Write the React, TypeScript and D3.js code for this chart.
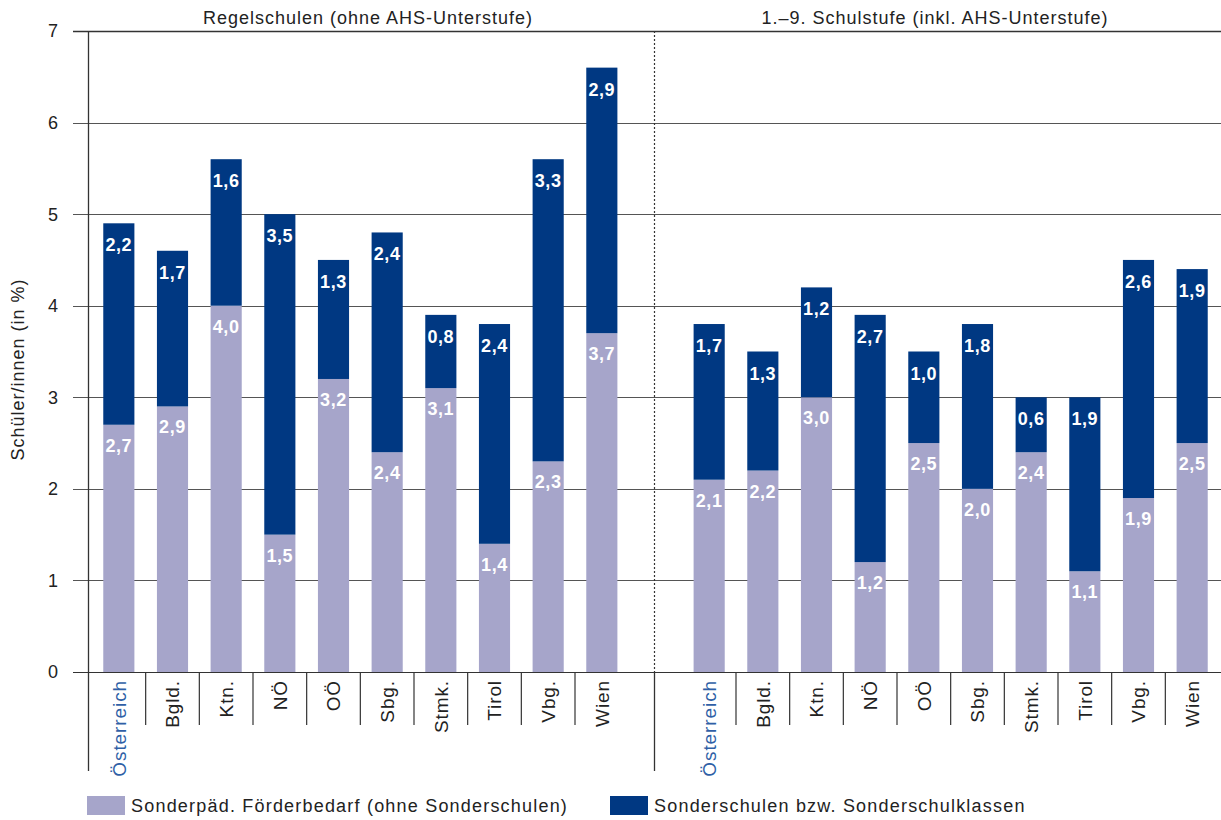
import React from "react";
import * as d3 from "d3";

// Bundesländer, same order in both panels
const regions = ["Österreich", "Bgld.", "Ktn.", "NÖ", "OÖ", "Sbg.", "Stmk.", "Tirol", "Vbg.", "Wien"];

// Regelschulen (ohne AHS-Unterstufe)
const regelFoerder = [2.7, 2.9, 4.0, 1.5, 3.2, 2.4, 3.1, 1.4, 2.3, 3.7];
const regelSonder = [2.2, 1.7, 1.6, 3.5, 1.3, 2.4, 0.8, 2.4, 3.3, 2.9];

// 1.–9. Schulstufe (inkl. AHS-Unterstufe)
const stufeFoerder = [2.1, 2.2, 3.0, 1.2, 2.5, 2.0, 2.4, 1.1, 1.9, 2.5];
const stufeSonder = [1.7, 1.3, 1.2, 2.7, 1.0, 1.8, 0.6, 1.9, 2.6, 1.9];

const panelTitles = ["Regelschulen (ohne AHS-Unterstufe)", "1.–9. Schulstufe (inkl. AHS-Unterstufe)"];
const seriesNames = ["Sonderpäd. Förderbedarf (ohne Sonderschulen)", "Sonderschulen bzw. Sonderschulklassen"];
const yTicks = [0, 1, 2, 3, 4, 5, 6, 7];

const W = 1221;
const H = 820;
const FONT = "'Liberation Sans', Arial, sans-serif";
const LIGHT = "#A6A5CA";
const DARK = "#003882";
const HIGHLIGHT = "#2F5FA6";
const TEXT = "#222";

export default function App() {
  const top = 31;
  const bottom = 672;
  const axisX = 88;

  const y = d3.scaleLinear().domain([0, 7]).range([bottom, top]);

  // 21 slots: 10 per panel plus an empty slot that separates the panels
  const slots = d3.range(21).map(String);
  const x = d3
    .scaleBand<string>()
    .domain(slots)
    .range([92, 1219])
    .paddingInner(0.42)
    .paddingOuter(0.21);
  const step = x.step();
  const bw = x.bandwidth();

  const panels = [
    { offset: 0, foerder: regelFoerder, sonder: regelSonder },
    { offset: 11, foerder: stufeFoerder, sonder: stufeSonder },
  ];

  const center = (slot: number) => (x(String(slot)) as number) + bw / 2;
  const dividerX = Math.round(center(10)) - 1.5;
  const fmt = (v: number) => d3.format(".1f")(v).replace(".", ",");

  return (
    <svg width={W} height={H} style={{ position: "absolute", left: 0, top: 0 }} fontFamily={FONT}>
      {/* horizontal grid */}
      {yTicks.map((t) => (
        <line
          key={"g" + t}
          x1={73}
          x2={W}
          y1={Math.round(y(t)) + 0.5}
          y2={Math.round(y(t)) + 0.5}
          stroke={t === 0 || t === 7 ? "#333" : "#555"}
          strokeWidth={t === 7 ? 1.6 : 1.1}
        />
      ))}
      {/* y tick labels */}
      {yTicks.map((t) => (
        <text key={"yt" + t} x={58} y={y(t)} dy="0.36em" textAnchor="end" fontSize={18} fill={TEXT}>
          {t}
        </text>
      ))}
      <text
        transform={`translate(24,${(top + bottom) / 2 + 18}) rotate(-90)`}
        textAnchor="middle"
        fontSize={18}
        letterSpacing={1}
        fill={TEXT}
      >
        Schüler/innen (in %)
      </text>

      {/* panel titles */}
      {panelTitles.map((t, i) => {
        const cx = i === 0 ? 368 : 935;
        return (
          <text key={t} x={cx} y={24} textAnchor="middle" fontSize={18} letterSpacing={1} fill={TEXT}>
            {t}
          </text>
        );
      })}

      {/* stacked bars */}
      {panels.map((p, pi) =>
        regions.map((r, i) => {
          const slot = p.offset + i;
          const bx = x(String(slot)) as number;
          const f = p.foerder[i];
          const s = p.sonder[i];
          const yF = y(f);
          const yT = y(f + s);
          return (
            <g key={`${pi}-${r}`}>
              <rect x={bx} y={yF} width={bw} height={bottom - yF} fill={LIGHT} />
              <rect x={bx} y={yT} width={bw} height={yF - yT} fill={DARK} />
              <text
                x={bx + bw / 2}
                y={yF + 27}
                textAnchor="middle"
                fontSize={18}
                fontWeight="bold"
                letterSpacing={0.6}
                fill="#fff"
              >
                {fmt(f)}
              </text>
              <text
                x={bx + bw / 2}
                y={yT + 28}
                textAnchor="middle"
                fontSize={18}
                fontWeight="bold"
                letterSpacing={0.6}
                fill="#fff"
              >
                {fmt(s)}
              </text>
            </g>
          );
        })
      )}

      {/* y axis */}
      <line x1={axisX + 0.5} x2={axisX + 0.5} y1={top} y2={771} stroke="#333" strokeWidth={1.3} />
      {/* panel divider */}
      <line x1={dividerX} x2={dividerX} y1={top} y2={bottom} stroke="#333" strokeWidth={1.2} strokeDasharray="2,2" />
      <line x1={dividerX} x2={dividerX} y1={bottom} y2={771} stroke="#333" strokeWidth={1.3} />

      {/* category separators and labels */}
      {panels.map((p, pi) =>
        regions.map((r, i) => {
          const slot = p.offset + i;
          const cx = center(slot);
          return (
            <g key={`l${pi}-${r}`}>
              {i < regions.length - 1 && (
                <line
                  x1={cx + step / 2}
                  x2={cx + step / 2}
                  y1={bottom}
                  y2={725}
                  stroke="#333"
                  strokeWidth={1.2}
                />
              )}
              <text
                transform={`translate(${cx},${bottom + 8}) rotate(-90)`}
                textAnchor="end"
                dy="0.36em"
                fontSize={19}
                letterSpacing={0.9}
                fill={i === 0 ? HIGHLIGHT : TEXT}
              >
                {r}
              </text>
            </g>
          );
        })
      )}

      {/* legend */}
      {seriesNames.map((n, i) => {
        const lx = i === 0 ? 87 : 610;
        return (
          <g key={n}>
            <rect x={lx} y={796} width={38} height={19} fill={i === 0 ? LIGHT : DARK} />
            <text x={lx + 44} y={806} dy="0.36em" fontSize={18} letterSpacing={1.2} fill={TEXT}>
              {n}
            </text>
          </g>
        );
      })}
    </svg>
  );
}
